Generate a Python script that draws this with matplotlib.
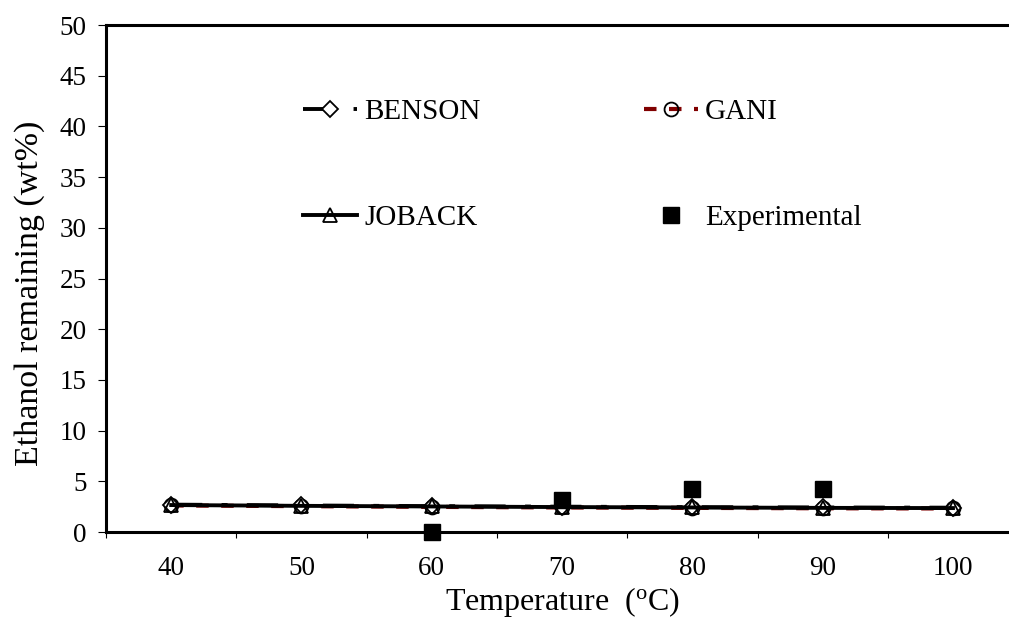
import numpy as np
import matplotlib
matplotlib.use("Agg")
import matplotlib.pyplot as plt

plt.rcParams['font.family'] = ['Liberation Serif', 'DejaVu Serif']
plt.rcParams['mathtext.fontset'] = 'custom'
plt.rcParams['mathtext.rm'] = 'Liberation Serif'

# data
temps = ["40", "50", "60", "70", "80", "90", "100"]
benson = [2.70, 2.62, 2.55, 2.50, 2.45, 2.42, 2.40]
gani = [2.62, 2.55, 2.48, 2.42, 2.38, 2.34, 2.32]
joback = [2.66, 2.58, 2.52, 2.46, 2.42, 2.38, 2.36]
experimental = [np.nan, np.nan, 0.0, 3.2, 4.2, 4.2, np.nan]

x = np.arange(len(temps))

fig = plt.figure(figsize=(10.09, 6.21), dpi=100)
ax = fig.add_axes([0.1051, 0.1433, 0.8949, 0.8164])

ax.plot(x, gani, color='#800000', lw=3, dashes=(3, 3),
        marker='o', ms=10, mfc='none', mec='black', mew=1.3, label='GANI')
ax.plot(x, benson, color='black', lw=2.8, dashes=(8, 5, 1.5, 5),
        marker='D', ms=8, mfc='white', mec='black', mew=1.3, label='BENSON')
ax.plot(x, joback, color='black', lw=2.8,
        marker='^', ms=10, mfc='none', mec='black', mew=1.3, label='JOBACK')
ax.plot(x, experimental, ls='none', marker='s', ms=11.5,
        color='black', label='Experimental', clip_on=False, zorder=5)

ax.set_xlim(-0.49, 6.43)
ax.set_ylim(0, 50)
ax.set_yticks(np.arange(0, 51, 5))
ax.set_xticks(x)
ax.set_xticklabels(temps)
ax.set_xticks(np.arange(-0.5, 6.5, 1), minor=True)

ax.tick_params(axis='x', which='major', length=0, pad=17, labelsize=19.5)
ax.tick_params(axis='x', which='minor', length=4, width=0.8, direction='out')
ax.tick_params(axis='y', length=6, width=0.8, direction='out', pad=8, labelsize=19.5)

for side in ['top', 'left', 'bottom']:
    ax.spines[side].set_linewidth(2.2)
ax.spines['right'].set_visible(False)

ax.set_ylabel('Ethanol remaining (wt%)', fontsize=24.5)
ax.yaxis.set_label_coords(-0.068, 0.47)
ax.set_xlabel(r'Temperature  ($\mathregular{^{o}}$C)', fontsize=23)
ax.xaxis.set_label_coords(0.506, -0.105)

# legend fills column by column: BENSON/JOBACK left, GANI/Experimental right
handles, labels = ax.get_legend_handles_labels()
order = [1, 2, 0, 3]
ax.legend([handles[i] for i in order], [labels[i] for i in order],
          ncol=2, frameon=False, fontsize=21, loc='upper left',
          bbox_to_anchor=(0.218, 0.855), borderpad=0, borderaxespad=0,
          handlelength=1.85, handletextpad=0.25, columnspacing=5.6,
          labelspacing=2.74)

fig.savefig('out.png', dpi=100)
